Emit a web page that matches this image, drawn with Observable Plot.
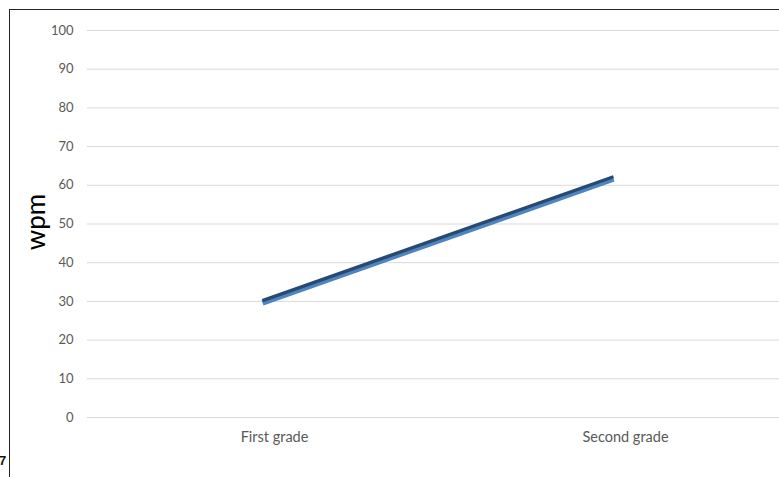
<!DOCTYPE html>
<html>
<head>
<meta charset="utf-8">
<script src="https://cdn.jsdelivr.net/npm/d3@7"></script>
<script src="https://cdn.jsdelivr.net/npm/@observablehq/plot@0.6"></script>
<style>
  html, body { margin: 0; padding: 0; background: #fff; overflow: hidden; }
  #wrap { position: relative; width: 779px; height: 477px; overflow: hidden; }
  #frame { position: absolute; left: 9px; top: 9px; right: -5px; bottom: -5px;
           border-top: 1.5px solid #222; border-left: 1.5px solid #222; }
  #stub { position: absolute; left: -1px; top: 453px; font: bold 13px "Liberation Sans", sans-serif; color: #111; }
  #chart { position: absolute; left: 0; top: 0; }
</style>
</head>
<body>
<div id="wrap">
  <div id="frame"></div>
  <div id="stub">7</div>
  <div id="chart"></div>
</div>
<script>
// Reading speed by grade (words per minute)
const grades = ["First grade", "Second grade"];
const wpm = [30, 62];
const yTicks = [0, 10, 20, 30, 40, 50, 60, 70, 80, 90, 100];
const yLabel = "wpm";

const rows = grades.map((g, i) => ({grade: g, wpm: wpm[i]}));
const font = "Lato, 'Open Sans', sans-serif";

const chart = Plot.plot({
  width: 779,
  height: 477,
  marginTop: 30,
  marginBottom: 60,
  marginLeft: 87,
  marginRight: 0,
  style: {fontFamily: font, background: "transparent"},
  x: {type: "point", domain: grades, range: [262, 613], padding: 0, axis: null},
  y: {domain: [0, 100], ticks: yTicks, axis: null},
  marks: [
    Plot.gridY(yTicks, {stroke: "#d9d9d9", strokeOpacity: 1, strokeWidth: 1}),
    Plot.axisY(yTicks, {tickSize: 0, tickPadding: 14, fontSize: 13, fill: "#595959", label: null}),
    Plot.text([yLabel], {frameAnchor: "left", textAnchor: "middle", rotate: -90, dx: -51, dy: -2, fontSize: 26, fill: "#000", fontFamily: font}),
    Plot.text(grades, {x: d => d, text: d => d, frameAnchor: "bottom", dx: 12, dy: 24, fontSize: 14.5, fill: "#595959"}),
    // ribbon-style line: lighter lower face, darker upper face
    Plot.line(rows, {x: "grade", y: "wpm", stroke: "#4f84c2", strokeWidth: 6, dy: 1.2, strokeLinecap: "butt"}),
    Plot.line(rows, {x: "grade", y: "wpm", stroke: "#284a72", strokeWidth: 3.4, dy: -0.8, strokeLinecap: "butt"})
  ]
});
document.getElementById("chart").appendChild(chart);
</script>
</body>
</html>
